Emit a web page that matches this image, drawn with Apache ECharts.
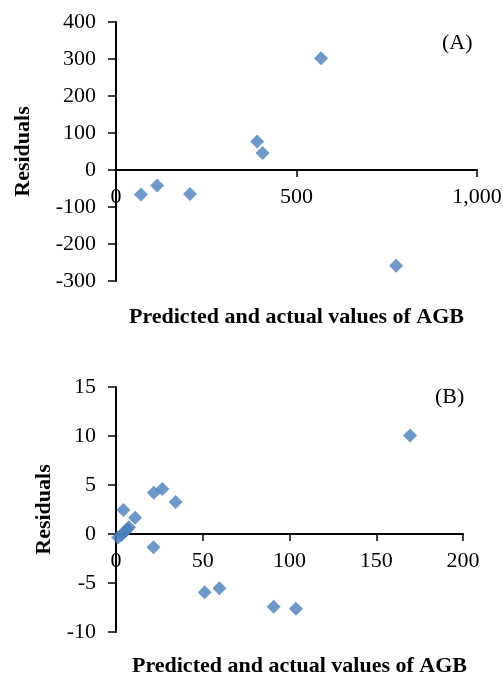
<!DOCTYPE html>
<html>
<head>
<meta charset="UTF-8">
<title>residuals</title>
<script src="https://cdn.jsdelivr.net/npm/echarts@6/dist/echarts.min.js"></script>
<style>
  html, body { margin: 0; padding: 0; background: #fff; }
</style>
</head>
<body>
<!-- two residual plots stacked, Excel style -->
<div id="chart" style="width:504px;height:673px;"></div>
<script type="text/javascript">
// panel A: predicted/actual AGB vs residual
var dataA = [
  [69, -66], [114, -42], [205, -65], [391, 77], [406, 46], [568, 302], [776, -259]
];
// panel B
var dataB = [
  [1.2, -0.35], [3, -0.1], [5, 0.2], [6.5, 0.5], [7.5, 0.7],
  [4.3, 2.44], [11, 1.66], [21.6, -1.36], [21.8, 4.2], [26.7, 4.58],
  [34.4, 3.26], [51.1, -5.94], [59.6, -5.53], [90.9, -7.43], [103.7, -7.63],
  [169.5, 10.04]
];
var panelLabels = ['(A)', '(B)'];
var xTitle = 'Predicted and actual values of AGB';
var yTitle = 'Residuals';
var rangeA = { xMin: 0, xMax: 1000, xStep: 500, yMin: -300, yMax: 400, yStep: 100 };
var rangeB = { xMin: 0, xMax: 200, xStep: 50, yMin: -10, yMax: 15, yStep: 5 };

var FONT = 'Liberation Serif, Times New Roman, serif';
var BLUE = '#4a7ebb';

// fixed plot boxes, no auto shrinking
var gridA = { left: 116, top: 22, width: 361, height: 259, outerBoundsMode: 'none' };
var gridB = { left: 116, top: 387, width: 347, height: 245, outerBoundsMode: 'none' };

var myChart = echarts.init(document.getElementById('chart'));

// x axis drawn where y = 0 crosses (like Excel), moved up from the grid bottom
function zeroOffset(grid, r) {
  return -grid.height * (0 - r.yMin) / (r.yMax - r.yMin);
}

function xAxisOf(gridIndex, grid, r, gap, shift) {
  return {
    type: 'value', gridIndex: gridIndex, min: r.xMin, max: r.xMax, interval: r.xStep,
    offset: zeroOffset(grid, r),
    name: xTitle, nameLocation: 'middle', nameGap: gap,
    nameTextStyle: { fontFamily: FONT, fontSize: 22, fontWeight: 'bold', color: '#000', padding: [0, 0, 0, shift] },
    axisLine: { onZero: false, lineStyle: { color: '#000', width: 2 } },
    axisTick: { inside: false, length: 7, lineStyle: { color: '#000', width: 1.5 } },
    axisLabel: {
      margin: 16, color: '#000', fontFamily: FONT, fontSize: 22,
      formatter: function (v) { return v.toLocaleString('en-US'); }
    },
    splitLine: { show: false }
  };
}

function yAxisOf(gridIndex, r, gap) {
  return {
    type: 'value', gridIndex: gridIndex, min: r.yMin, max: r.yMax, interval: r.yStep,
    name: yTitle, nameLocation: 'middle', nameGap: gap, nameRotate: 90,
    nameTextStyle: { fontFamily: FONT, fontSize: 22, fontWeight: 'bold', color: '#000' },
    axisLine: { onZero: false, lineStyle: { color: '#000', width: 2 } },
    axisTick: { inside: false, length: 8, lineStyle: { color: '#000', width: 1.5 } },
    axisLabel: { margin: 20, color: '#000', fontFamily: FONT, fontSize: 22 },
    splitLine: { show: false }
  };
}

var option = {
  animation: false,
  backgroundColor: '#fff',
  grid: [gridA, gridB],
  xAxis: [
    xAxisOf(0, gridA, rangeA, 136, 0),
    xAxisOf(1, gridB, rangeB, 121, 20)
  ],
  yAxis: [
    yAxisOf(0, rangeA, 82),
    yAxisOf(1, rangeB, 53)
  ],
  graphic: [
    { type: 'text', left: 442, top: 32, style: { text: panelLabels[0], font: '22px ' + FONT, fill: '#000' } },
    { type: 'text', left: 435, top: 386, style: { text: panelLabels[1], font: '22px ' + FONT, fill: '#000' } }
  ],
  series: [
    { type: 'scatter', xAxisIndex: 0, yAxisIndex: 0, symbol: 'diamond', symbolSize: 14,
      itemStyle: { color: BLUE }, data: dataA },
    { type: 'scatter', xAxisIndex: 1, yAxisIndex: 1, symbol: 'diamond', symbolSize: 14,
      itemStyle: { color: BLUE }, data: dataB }
  ]
};

myChart.setOption(option);
</script>
</body>
</html>
